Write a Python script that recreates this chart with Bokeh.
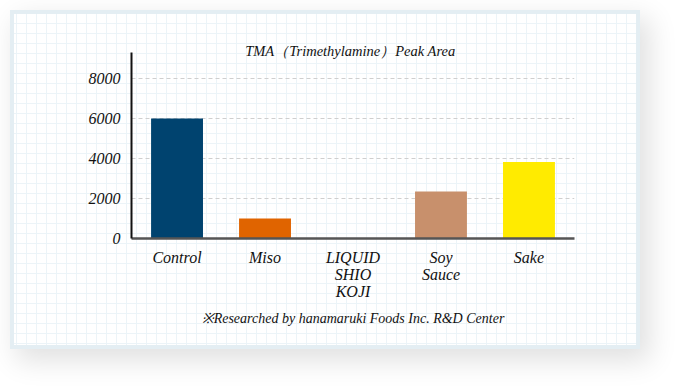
from bokeh.plotting import figure
from bokeh.models import Label, FactorRange, Range1d, ColumnDataSource
from bokeh.embed import file_html
from bokeh.resources import INLINE

# ---- data ----
categories = ["Control", "Miso", "LIQUID\nSHIO\nKOJI", "Soy\nSauce", "Sake"]
peak_area = [6000, 1000, 0, 2350, 3830]
bar_colors = ["#00436f", "#e06400", "#ffffff", "#c8906c", "#ffeb00"]
y_ticks = [0, 2000, 4000, 6000, 8000]
title_text = "TMA（Trimethylamine）Peak Area"
note_text = "※Researched by hanamaruki Foods Inc. R&D Center"

SERIF = "Liberation Serif"

card_styles = {
    "position": "relative",
    "left": "14px",
    "top": "14px",
    "background-color": "#ffffff",
    "background-image": "linear-gradient(#ecf4f8 1px, transparent 1px), linear-gradient(90deg, #ecf4f8 1px, transparent 1px)",
    "background-size": "10px 10px",
    "background-position": "2px 9px",
    "box-shadow": "0 0 0 4px #e4eef3, 8px 10px 26px 6px rgba(0,0,0,0.12)",
}

source = ColumnDataSource(dict(cat=categories, val=peak_area, col=bar_colors))

p = figure(
    x_range=FactorRange(*categories, range_padding=0.007),
    y_range=Range1d(0, 9900),
    width=622, height=331,
    output_backend="svg", toolbar_location=None,
    min_border_left=117, min_border_right=62,
    min_border_top=26, min_border_bottom=107,
    background_fill_color=None, border_fill_color=None,
    outline_line_color=None,
    styles=card_styles,
)

p.vbar(x="cat", top="val", width=0.59, source=source,
       fill_color="col", line_color=None)

# y axis
p.yaxis.ticker = y_ticks
p.yaxis.bounds = (0, 9300)
p.yaxis.axis_line_color = "#111111"
p.yaxis.axis_line_width = 2
p.yaxis.major_tick_line_color = None
p.yaxis.minor_tick_line_color = None
p.yaxis.major_tick_out = 0
p.yaxis.major_tick_in = 0
p.yaxis.major_label_standoff = 11
p.yaxis.major_label_text_font = SERIF
p.yaxis.major_label_text_font_style = "italic"
p.yaxis.major_label_text_font_size = "16px"
p.yaxis.major_label_text_color = "#111111"

# x axis
p.xaxis.axis_line_color = "#555555"
p.xaxis.axis_line_width = 2.5
p.xaxis.major_tick_line_color = None
p.xaxis.major_tick_out = 0
p.xaxis.major_tick_in = 0
p.xaxis.major_label_standoff = 10
p.xaxis.major_label_text_font = SERIF
p.xaxis.major_label_text_font_style = "italic"
p.xaxis.major_label_text_font_size = "16px"
p.xaxis.major_label_text_color = "#111111"
p.xaxis.major_label_text_line_height = 1.0
# footnote as the axis label
p.xaxis.axis_label = note_text
p.xaxis.axis_label_standoff = 8
p.xaxis.axis_label_text_font = SERIF
p.xaxis.axis_label_text_font_style = "italic"
p.xaxis.axis_label_text_font_size = "14px"
p.xaxis.axis_label_text_color = "#111111"

# grid
p.xgrid.grid_line_color = None
p.ygrid.ticker = y_ticks
p.ygrid.grid_line_color = "#cfcfcf"
p.ygrid.grid_line_dash = "4 3"
p.ygrid.grid_line_width = 1

# title inside the chart area
p.add_layout(Label(x=2.47, y=9375, text=title_text,
                   text_align="center", text_baseline="middle",
                   text_font=SERIF, text_font_style="italic",
                   text_font_size="14.5px", text_color="#111111"))

open("out.html", "w").write(file_html(p, INLINE))
